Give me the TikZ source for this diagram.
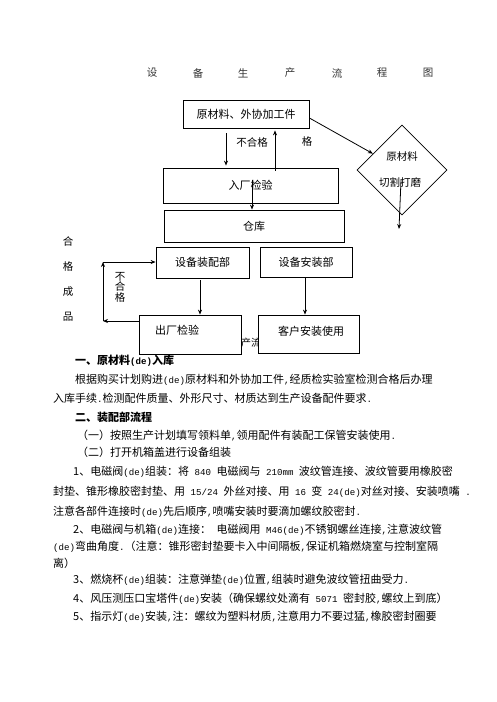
\documentclass[tikz,border=0pt]{standalone}
\usepackage{fontspec}
\setmainfont{Noto Sans CJK SC}
\newfontfamily\hwfont[Scale=0.83]{Liberation Mono}
\usetikzlibrary{arrows.meta,shapes.geometric}
\newcommand\hw[1]{{\hwfont#1}}
\begin{document}
\begin{tikzpicture}[x=1pt,y=-1pt,
  box/.style={draw, line width=0.8pt, inner sep=0pt, fill=white, font=\fontsize{11}{13}\selectfont},
  arr/.style={-{Stealth[length=5pt,width=4pt]}, line width=0.8pt},
  body/.style={anchor=west, inner sep=0pt, font=\fontsize{11}{13}\selectfont},
  bodyb/.style={body, font=\fontsize{11}{13}\selectfont\bfseries},
  lbl/.style={inner sep=0pt, font=\fontsize{10.5}{13}\selectfont}]
\useasboundingbox[fill=white] (0,0) rectangle (496,702);

% title
\foreach \c/\x [count=\i] in {设/152,备/198,生/243,产/290,流/337,程/382,图/428}
  \node[lbl, text=black!80] (t\i) at (\x,73) {\c};

% flow boxes
\node[box, minimum width=126pt, minimum height=28pt] (b1) at (246,114) {原材料、外协加工件};
\node[box, minimum width=175pt, minimum height=35pt] (b2) at (250.5,185.5) {入厂检验};
\node[box, minimum width=180pt, minimum height=32pt] (ck) at (254,226) {仓库};
\node[box, minimum width=93pt, minimum height=31pt] (asm) at (202.5,262.5) {设备装配部};
\node[box, minimum width=92pt, minimum height=30pt] (ins) at (306,262) {设备安装部};
\node[box, minimum width=102pt, minimum height=39pt] (chk) at (190,334.5) {};
\node[lbl, font=\fontsize{11}{13}\selectfont] (chkt) at (177,330) {出厂检验};
\node[lbl, anchor=west, font=\fontsize{10}{12}\selectfont] (hid) at (241,343) {产流};
\node[box, minimum width=101pt, minimum height=38pt] (cus) at (308.5,334) {};
\node[lbl, font=\fontsize{11}{13}\selectfont] (cust) at (311,331) {客户安装使用};
\node[draw, shape=diamond, line width=0.8pt, minimum width=90pt, minimum height=90pt, inner sep=0pt] (dia) at (402,170) {};
\node[lbl] (dia1) at (402,157) {原材料};
\node[lbl] (dia2) at (400,182) {切割打磨};

% labels
\node[lbl] (ng1) at (252,142) {不合格};
\node[lbl] (g1) at (307,142) {格};
\node[lbl, align=center, font=\fontsize{10.5}{10.5}\selectfont] (ng2) at (120,287) {不\\合\\格};
\node[lbl, align=center, font=\fontsize{10.5}{25.3}\selectfont] (hgcp) at (68,279) {合\\格\\成\\品};

% connectors
\coordinate (diaend) at (399,229);
\coordinate (lt) at (103,262);
\coordinate (lb) at (103,321);
\draw[arr] ([xshift=-20pt,yshift=-5pt]b1.south) -- ([xshift=-24.5pt,yshift=2pt]b2.north);
\draw[arr] ([xshift=24.5pt,yshift=-3pt]b2.north) -- ([xshift=29pt,yshift=-2pt]b1.south);
\draw[arr] ([yshift=-4pt]b1.east) -- (dia);
\draw[arr] ([xshift=-1pt,yshift=-10pt]dia.center) -- (diaend);
\draw[arr] ([xshift=1.5pt,yshift=5.5pt]b2.center) -- ([xshift=-2pt]ck.north);
\draw[arr] ([xshift=-2.5pt,yshift=-2pt]asm.south) -- ([xshift=10pt]chk.north);
\draw[arr] ([xshift=-1pt,yshift=-1pt]ins.south) -- ([xshift=-3.5pt]cus.north);
\draw[arr] (lb -| chk.west) -- (lb);
\draw[arr] (lb) -- (lt);
\draw[arr] (lt) -- (lt -| asm.west);

% body text
\node[bodyb] (h1) at (75,361) {一、原材料\hw{(de)}入库};
\node[body] (p1) at (75,380) {根据购买计划购进\hw{(de)}原材料和外协加工件\hw{,}经质检实验室检测合格后办理};
\node[body] (p2) at (53,398) {入库手续\hw{.}检测配件质量、外形尺寸、材质达到生产设备配件要求\hw{.}};
\node[bodyb] (h2) at (75,417) {二、装配部流程};
\node[body] (p3) at (77,436) {（一）按照生产计划填写领料单\hw{,}领用配件有装配工保管安装使用\hw{.}};
\node[body] (p4) at (77,452) {（二）打开机箱盖进行设备组装};
\node[body] (p5) at (73,472) {1、电磁阀\hw{(de)}组装：将\hw{~840~}电磁阀与\hw{~210mm~}波纹管连接、波纹管要用橡胶密};
\node[body] (p6) at (53,492) {封垫、锥形橡胶密封垫、用\hw{~15/24~}外丝对接、用\hw{~16~}变\hw{~24(de)}对丝对接、安装喷嘴\hw{~.}};
\node[body] (p7) at (53,512) {注意各部件连接时\hw{(de)}先后顺序\hw{,}喷嘴安装时要滴加螺纹胶密封\hw{.}};
\node[body] (p8) at (73,530) {2、电磁阀与机箱\hw{(de)}连接：\hw{~}电磁阀用\hw{~M46(de)}不锈钢螺丝连接\hw{,}注意波纹管};
\node[body] (p9) at (53,547) {\hw{(de)}弯曲角度\hw{.}（注意：锥形密封垫要卡入中间隔板\hw{,}保证机箱燃烧室与控制室隔};
\node[body] (p10) at (53,563) {离）};
\node[body] (p11) at (73,580) {3、燃烧杯\hw{(de)}组装：注意弹垫\hw{(de)}位置\hw{,}组装时避免波纹管扭曲受力\hw{.}};
\node[body] (p12) at (73,599) {4、风压测压口宝塔件\hw{(de)}安装（确保螺纹处滴有\hw{~5071~}密封胶\hw{,}螺纹上到底）};
\node[body] (p13) at (73,617) {5、指示灯\hw{(de)}安装\hw{,}注：螺纹为塑料材质\hw{,}注意用力不要过猛\hw{,}橡胶密封圈要};
\end{tikzpicture}
\end{document}
